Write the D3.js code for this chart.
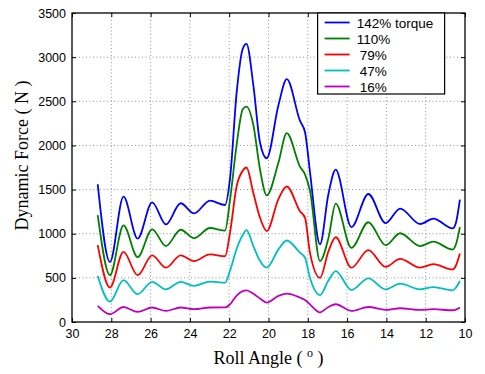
<!DOCTYPE html>
<html lang="en">
<head>
<meta charset="UTF-8">
<script src="https://d3js.org/d3.v7.min.js"></script>
<style>
    body { margin: 0; padding: 0; background: #ffffff; }
    svg { display: block; }
    .tick-label { font-family: 'Liberation Sans', Arial, sans-serif; font-size: 12.5px; fill: #000; }
    .title { font-family: 'Liberation Serif', 'Times New Roman', serif; font-size: 18px; fill: #000; }
    .legend-text { font-family: 'Liberation Sans', Arial, sans-serif; font-size: 13.5px; fill: #000; }
</style>
</head>
<body>
<svg id="chart" width="485" height="374"></svg>
<script>
// Roll angle (degrees), shared by all series
const angles = [28.69, 28.07, 27.38, 26.66, 25.92, 25.22, 24.47, 23.79, 22.98, 22.21,
    21.96, 21.62, 21.31, 21.12, 20.77, 20.43, 20.09, 19.50, 19.07, 18.40, 18.14, 17.89,
    17.38, 16.95, 16.58, 15.78, 14.92, 14.04, 13.30, 12.29, 11.61, 10.63, 10.46, 10.26];

const torque142 = [1560, 680, 1420, 945, 1355, 1105, 1345, 1230, 1375, 1325,
    1620, 2600, 3095, 3150, 2680, 2030, 1855, 2450, 2750, 2280, 2150, 1700,
    880, 1450, 1725, 1075, 1450, 1120, 1285, 1110, 1170, 1060, 1125, 1385];

const torque110 = [1210, 530, 1095, 735, 1050, 860, 1045, 950, 1065, 1035,
    1380, 2010, 2410, 2440, 2230, 1725, 1435, 1800, 2140, 1760, 1670, 1490,
    690, 950, 1340, 840, 1130, 870, 1005, 860, 910, 820, 880, 1075];

const torque79 = [870, 390, 795, 530, 755, 615, 755, 690, 765, 745,
    1010, 1540, 1715, 1750, 1460, 1180, 1030, 1390, 1535, 1255, 1180, 785,
    500, 800, 960, 615, 815, 625, 715, 615, 655, 595, 640, 775];

const torque47 = [520, 230, 475, 315, 455, 370, 455, 410, 458, 445,
    580, 830, 985, 1040, 860, 690, 615, 820, 923, 785, 728, 500,
    305, 470, 577, 362, 494, 370, 435, 370, 396, 359, 390, 464];

const torque16 = [182, 88, 170, 114, 164, 125, 164, 145, 164, 165,
    200, 300, 350, 358, 320, 265, 220, 295, 322, 277, 250, 200,
    110, 170, 201, 125, 170, 137, 156, 137, 145, 133, 140, 164];

const seriesNames = ["142% torque", "110%", "79%", "47%", "16%"];
const seriesValues = [torque142, torque110, torque79, torque47, torque16];
const seriesColors = ["#0000ff", "#008000", "#ff0000", "#00bfbf", "#bf00bf"];

const xTicks = [30, 28, 26, 24, 22, 20, 18, 16, 14, 12, 10];
const yTicks = [0, 500, 1000, 1500, 2000, 2500, 3000, 3500];

const margin = { top: 13, right: 20, bottom: 52, left: 72 };
const width = 485 - margin.left - margin.right;
const height = 374 - margin.top - margin.bottom;

const svg = d3.select("#chart");
const g = svg.append("g").attr("transform", `translate(${margin.left},${margin.top})`);

const x = d3.scaleLinear().domain([30, 10]).range([0, width]);
const y = d3.scaleLinear().domain([0, 3500]).range([height, 0]);

// Grid lines (dotted)
g.append("g")
    .selectAll("line")
    .data(xTicks.slice(1, -1))
    .enter()
    .append("line")
    .attr("x1", d => x(d)).attr("x2", d => x(d))
    .attr("y1", 0).attr("y2", height)
    .attr("stroke", "#777")
    .attr("stroke-width", 0.8)
    .attr("stroke-dasharray", "1,2.5");

g.append("g")
    .selectAll("line")
    .data(yTicks.slice(1, -1))
    .enter()
    .append("line")
    .attr("x1", 0).attr("x2", width)
    .attr("y1", d => y(d)).attr("y2", d => y(d))
    .attr("stroke", "#777")
    .attr("stroke-width", 0.8)
    .attr("stroke-dasharray", "1,2.5");

// Axes with inward ticks, MATLAB style
const axisStyle = sel => {
    sel.select(".domain").remove();
    sel.selectAll(".tick line").attr("stroke", "#000").attr("stroke-width", 1);
};

const xBottom = g.append("g")
    .attr("transform", `translate(0,${height})`)
    .call(d3.axisBottom(x).tickValues(xTicks).tickSize(-4).tickPadding(7).tickFormat(d3.format("d")));
xBottom.call(axisStyle);
xBottom.selectAll("text").attr("class", "tick-label").attr("font-family", null).attr("font-size", null);

const xTop = g.append("g")
    .call(d3.axisTop(x).tickValues(xTicks).tickSize(-4).tickFormat(""));
xTop.call(axisStyle);

const yLeft = g.append("g")
    .call(d3.axisLeft(y).tickValues(yTicks).tickSize(-4).tickPadding(6).tickFormat(d3.format("d")));
yLeft.call(axisStyle);
yLeft.selectAll("text").attr("class", "tick-label").attr("font-family", null).attr("font-size", null);

const yRight = g.append("g")
    .attr("transform", `translate(${width},0)`)
    .call(d3.axisRight(y).tickValues(yTicks).tickSize(-4).tickFormat(""));
yRight.call(axisStyle);

// Plot box
g.append("rect")
    .attr("x", 0).attr("y", 0)
    .attr("width", width).attr("height", height)
    .attr("fill", "none")
    .attr("stroke", "#000")
    .attr("stroke-width", 1.3);

// Lines
const line = d3.line()
    .x((d, i) => x(angles[i]))
    .y(d => y(d))
    .curve(d3.curveMonotoneX);

g.selectAll(".series")
    .data(seriesValues)
    .enter()
    .append("path")
    .attr("class", "series")
    .attr("d", d => line(d))
    .attr("fill", "none")
    .attr("stroke", (d, i) => seriesColors[i])
    .attr("stroke-width", 1.8);

// Legend
const legend = g.append("g").attr("transform", `translate(${x(17.5)},0)`);
legend.append("rect")
    .attr("x", 0).attr("y", 0)
    .attr("width", 127).attr("height", 81)
    .attr("fill", "#fff")
    .attr("stroke", "#000")
    .attr("stroke-width", 1.2);

const rows = legend.selectAll(".row")
    .data(seriesNames)
    .enter()
    .append("g")
    .attr("transform", (d, i) => `translate(0,${9.5 + i * 16})`);

rows.append("line")
    .attr("x1", 7).attr("x2", 32)
    .attr("y1", 0).attr("y2", 0)
    .attr("stroke", (d, i) => seriesColors[i])
    .attr("stroke-width", 1.8);

rows.append("text")
    .attr("class", "legend-text")
    .attr("x", (d, i) => i < 2 ? 39 : 42)
    .attr("y", 5)
    .text(d => d);

// Axis titles
svg.append("text")
    .attr("class", "title")
    .attr("text-anchor", "middle")
    .attr("transform", `translate(28,${margin.top + height / 2 - 12}) rotate(-90)`)
    .text("Dynamic Force ( N )");

const xTitle = svg.append("text")
    .attr("class", "title")
    .attr("text-anchor", "middle")
    .attr("x", margin.left + width / 2)
    .attr("y", 364);
xTitle.append("tspan").text("Roll Angle ( ");
xTitle.append("tspan").attr("font-size", "12px").attr("dy", -7).text("o");
xTitle.append("tspan").attr("dy", 7).text(" )");
</script>
</body>
</html>
